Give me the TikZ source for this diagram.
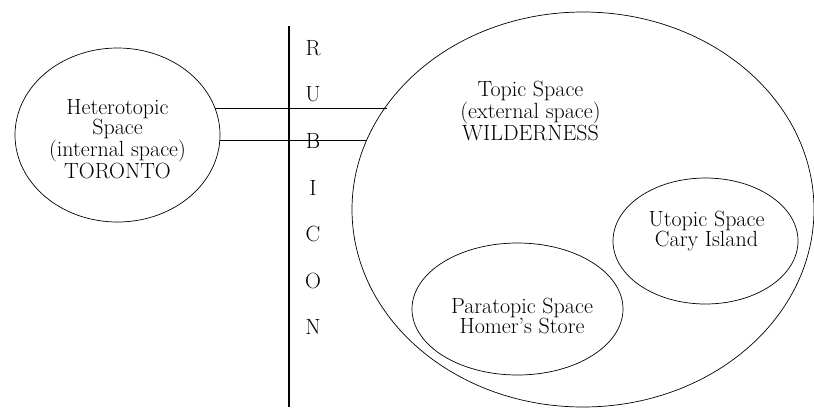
\documentclass[tikz,border=0pt]{standalone}
\usepackage{fontspec}
\usetikzlibrary{shapes.geometric}
\begin{document}
\begin{tikzpicture}[x=1pt,y=-1pt,
  space/.style={draw, ellipse, inner sep=0pt, outer sep=0pt, line width=0.7pt},
  lab/.style={align=center, inner sep=0pt, font=\fontsize{22}{20.3}\selectfont},
  letter/.style={inner sep=0pt, font=\fontsize{22}{20.3}\selectfont},
  conn/.style={line width=0.8pt},
  river/.style={line width=1.2pt}]
\useasboundingbox (0,0) rectangle (814,408);
% ellipses
\node[space, minimum width=205pt, minimum height=174pt] (het) at (117.5,135) {};
\node[space, minimum width=462pt, minimum height=395pt] (top) at (583,209.5) {};
\node[space, minimum width=185pt, minimum height=126pt] (uto) at (705.5,241) {};
\node[space, minimum width=211pt, minimum height=132pt] (para) at (517.5,309) {};
% texts
\node[lab] (hett) at (117.5,139) {Heterotopic\\Space\\(internal space)\\TORONTO};
\node[lab] (topt) at (530.5,111) {Topic Space\\(external space)\\WILDERNESS};
\node[lab] (utot) at (706.5,231) {Utopic Space\\Cary Island};
\node[lab] (parat) at (522,316) {Paratopic Space\\Homer's Store};
% Rubicon
\coordinate (rtop) at (289,26);
\coordinate (rbot) at (289,407);
\draw[river] (rtop) -- (rbot);
\foreach \l [count=\i from 0] in {R,U,B,I,C,O,N}
  \node[letter] (rub\i) at (313,48+46.5*\i) {\l};
% connectors
\draw[conn] (het.15.49) -- (het.15.49 -| top.152.88);
\draw[conn] (het.-3.36) -- (het.-3.36 -| top.162.46);
\end{tikzpicture}
\end{document}
